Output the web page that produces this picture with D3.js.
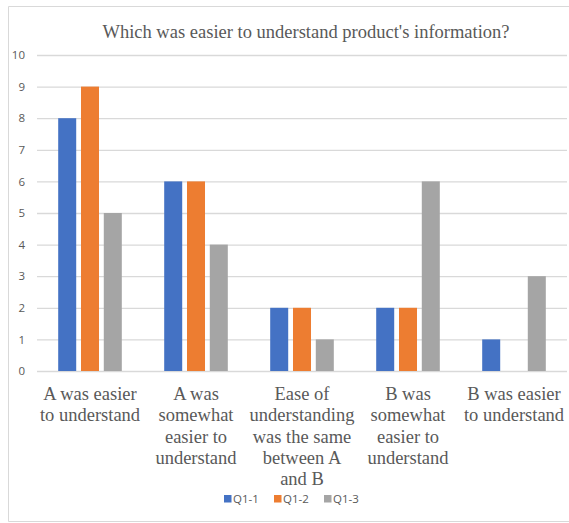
<!DOCTYPE html>
<html>
<head>
<meta charset="utf-8">
<script src="https://cdn.jsdelivr.net/npm/d3@7"></script>
<style>
  html, body { margin: 0; padding: 0; background: #fff; overflow: hidden; }
  .serif { font-family: "Liberation Serif", "DejaVu Serif", serif; }
  .sans { font-family: "Open Sans", "Liberation Sans", sans-serif; }
</style>
</head>
<body>
<div id="chart"></div>
<script>
const categories = [
  ["A was easier", "to understand"],
  ["A was", "somewhat", "easier to", "understand"],
  ["Ease of", "understanding", "was the same", "between A", "and B"],
  ["B was", "somewhat", "easier to", "understand"],
  ["B was easier", "to understand"]
];
const seriesNames = ["Q1-1", "Q1-2", "Q1-3"];
const q11 = [8, 6, 2, 2, 1];
const q12 = [9, 6, 2, 2, 0];
const q13 = [5, 4, 1, 6, 3];
const yTicks = [0, 1, 2, 3, 4, 5, 6, 7, 8, 9, 10];
const colors = ["#4472C4", "#ED7D31", "#A5A5A5"];

const W = 569, H = 523;
const plot = { left: 37, right: 567, top: 55, bottom: 371 };

const svg = d3.select("#chart").append("svg")
  .attr("width", W)
  .attr("height", H)
  .style("display", "block");

// chart frame (top, left, bottom only)
svg.append("path")
  .attr("d", `M${W},6.5 H8.5 V521.5 H${W}`)
  .attr("fill", "none")
  .attr("stroke", "#d9d9d9");

const catIdx = categories.map((d, i) => i);
const x0 = d3.scaleBand().domain(catIdx).range([plot.left, plot.right]).padding(0);
const x1 = d3.scaleBand().domain(seriesNames)
  .range([x0.step() * 0.2, x0.step() * 0.8])
  .paddingInner(0.21);
const y = d3.scaleLinear().domain([0, 10]).range([plot.bottom, plot.top]);

// grid
svg.append("g")
  .attr("transform", `translate(${plot.left},0)`)
  .call(d3.axisLeft(y).tickValues(yTicks).tickSize(-(plot.right - plot.left)).tickFormat(""))
  .call(g => g.select(".domain").remove())
  .call(g => g.selectAll(".tick line").attr("stroke", "#d9d9d9").attr("stroke-width", 1.3));

// y labels
svg.append("g")
  .attr("transform", `translate(${plot.left},0)`)
  .call(d3.axisLeft(y).tickValues(yTicks).tickSize(0).tickPadding(12))
  .call(g => g.select(".domain").remove())
  .call(g => g.selectAll("text")
    .attr("class", "sans")
    .attr("fill", "#595959")
    .style("font-size", "11.5px"));
svg.selectAll("g").attr("font-family", null);

const table = seriesNames.map((s, si) => ({
  key: s,
  values: [q11, q12, q13][si]
}));

svg.append("g").selectAll("g")
  .data(table)
  .join("g")
  .attr("fill", (d, i) => colors[i])
  .selectAll("rect")
  .data(d => d.values.map((v, i) => ({ key: d.key, i, v })))
  .join("rect")
  .attr("x", d => x0(d.i) + x1(d.key))
  .attr("y", d => y(d.v))
  .attr("width", x1.bandwidth())
  .attr("height", d => y(0) - y(d.v));

// category labels
const catG = svg.append("g");
categories.forEach((lines, i) => {
  const t = catG.append("text")
    .attr("class", "serif")
    .attr("text-anchor", "middle")
    .attr("fill", "#595959")
    .style("font-size", "18.5px");
  lines.forEach((ln, j) => {
    t.append("tspan")
      .attr("x", x0(i) + x0.bandwidth() / 2)
      .attr("y", 400 + j * 21.3)
      .text(ln);
  });
});

// title
svg.append("text")
  .attr("class", "serif")
  .attr("x", 306)
  .attr("y", 38)
  .attr("text-anchor", "middle")
  .attr("fill", "#595959")
  .style("font-size", "18.5px")
  .text("Which was easier to understand product's information?");

// legend
const legend = svg.append("g").attr("transform", "translate(224,495)");
seriesNames.forEach((s, i) => {
  const g = legend.append("g").attr("transform", `translate(${i * 50},0)`);
  g.append("rect").attr("width", 7.5).attr("height", 7.5).attr("fill", colors[i]);
  g.append("text")
    .attr("class", "sans")
    .attr("x", 9)
    .attr("y", 8)
    .attr("fill", "#595959")
    .style("font-size", "11.5px")
    .text(s);
});
</script>
</body>
</html>
